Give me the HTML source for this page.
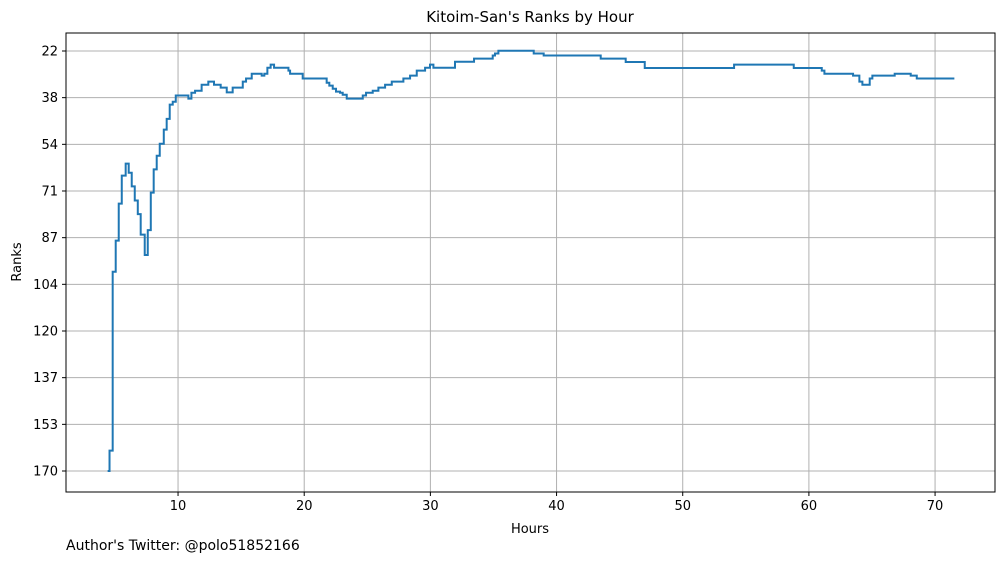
<!DOCTYPE html>
<html><head><meta charset="utf-8"><style>
body{margin:0;background:#fff;}
svg{display:block;font-family:"DejaVu Sans","Liberation Sans",sans-serif;}
</style></head><body>
<svg id="chart" width="1005" height="562">
<rect width="1005" height="562" fill="#fff"/>
<g id="grid"></g>
<g id="ticks"></g>
<path id="line" fill="none" stroke="#1f77b4" stroke-width="2" stroke-linejoin="miter"/>
<rect x="66" y="33" width="929" height="459" fill="none" stroke="#000" stroke-width="1"/>
<text x="530" y="22" text-anchor="middle" font-size="15">Kitoim-San's Ranks by Hour</text>
<text x="530" y="533" text-anchor="middle" font-size="13">Hours</text>
<text transform="translate(21,262) rotate(-90)" text-anchor="middle" font-size="13">Ranks</text>
<text x="66" y="550" font-size="14">Author's Twitter: @polo51852166</text>
</svg>
<script>
const hours = [4.42,4.57,4.82,5.06,5.30,5.54,5.85,6.09,6.33,6.57,6.81,7.04,7.36,7.60,7.84,8.07,8.31,8.55,8.87,9.10,9.34,9.58,9.82,10.82,11.06,11.35,11.87,12.4,12.85,13.38,13.86,14.33,15.13,15.39,15.84,16.63,16.84,17.08,17.34,17.61,18.75,18.88,19.88,21.78,21.99,22.26,22.52,22.84,23.05,23.37,24.64,24.90,25.43,25.88,26.41,26.94,27.86,28.39,28.92,29.58,29.97,30.24,31.95,33.46,34.94,35.12,35.39,38.19,38.98,43.5,45.48,46.99,54.07,58.8,61.02,61.23,63.5,64.0,64.24,64.82,65.03,66.8,68.07,68.55,71.53];
const ranks = [170,162.8,99.8,88.8,75.8,65.9,61.7,64.9,69.7,74.7,79.5,86.7,93.9,85.1,71.9,63.7,58.9,54.7,49.7,45.9,40.9,39.9,37.7,38.8,36.7,36.0,33.9,32.8,33.9,34.9,36.6,34.9,32.8,31.7,30.0,30.7,30.0,27.9,26.8,27.9,28.9,30.0,31.7,33.2,34.2,35.3,36.3,36.7,37.4,38.8,37.7,36.7,36.0,34.9,33.9,32.8,31.7,30.7,28.9,27.9,26.8,27.9,25.8,24.7,23.6,22.9,21.9,22.9,23.6,24.7,25.9,28.0,26.8,28.0,28.9,30.0,30.7,32.8,33.9,31.7,30.7,30.0,30.7,31.7,31.7];
const xTicks = [10,20,30,40,50,60,70];
const yTickVals = [22,38.44,54.89,71.33,87.78,104.22,120.67,137.11,153.56,170];
const yTickLabels = ["22","38","54","71","87","104","120","137","153","170"];

const L=66,R=995,T=33,B=492;
const xMin=1.12,xMax=74.75,yMin=15.66,yMax=177.4;
const xs=v=>L+(v-xMin)/(xMax-xMin)*(R-L);
const ys=v=>T+(v-yMin)/(yMax-yMin)*(B-T);
const NS="http://www.w3.org/2000/svg";
const grid=document.getElementById('grid'), tk=document.getElementById('ticks');
function mk(tag,attrs,parent){const e=document.createElementNS(NS,tag);for(const k in attrs)e.setAttribute(k,attrs[k]);parent.appendChild(e);return e;}
xTicks.forEach(v=>{
  const x=xs(v);
  const g=mk('line',{x1:x,x2:x,y1:T,y2:B,stroke:'#b0b0b0','stroke-width':1},grid);
  
  
  mk('line',{x1:x,x2:x,y1:B,y2:B+4,stroke:'#000'},tk);
  const t=mk('text',{x:x,y:B+18,'text-anchor':'middle','font-size':13},tk);
  t.textContent=v;
  
  
});
yTickVals.forEach((v,i)=>{
  const y=ys(v);
  const g=mk('line',{x1:L,x2:R,y1:y,y2:y,stroke:'#b0b0b0','stroke-width':1},grid);
  
  
  mk('line',{x1:L-4,x2:L,y1:y,y2:y,stroke:'#000'},tk);
  const t=mk('text',{x:L-8,y:y+4.5,'text-anchor':'end','font-size':13},tk);
  t.textContent=yTickLabels[i];
  
  
});
let d='M'+xs(hours[0])+','+ys(ranks[0]);
for(let i=1;i<hours.length;i++){
  d+=' H'+xs(hours[i])+' V'+ys(ranks[i]);
}
document.getElementById('line').setAttribute('d',d);
</script>
</body></html>
